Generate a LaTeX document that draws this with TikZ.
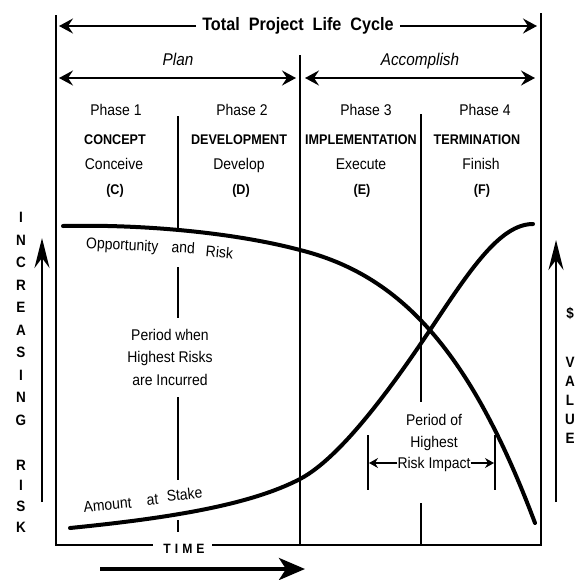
\documentclass[tikz,border=0pt]{standalone}
\usepackage{fontspec}
\setmainfont{Liberation Sans}[FakeStretch=0.9]
\usetikzlibrary{arrows.meta}
\begin{document}
\begin{tikzpicture}[x=1pt,y=-1pt,
  frame/.style={line width=1.4pt},
  curve/.style={line width=4pt,line cap=round},
  hdrarrow/.style={line width=2.6pt,-{Stealth[length=14pt,width=15pt,inset=5pt]}},
  hdrboth/.style={line width=2.6pt,{Stealth[length=14pt,width=15pt,inset=5pt]}-{Stealth[length=14pt,width=15pt,inset=5pt]}},
  axisarrow/.style={line width=2.6pt,-{Stealth[length=30pt,width=15pt,inset=10pt]}},
  timearrow/.style={line width=4pt,-{Stealth[length=26pt,width=22pt,inset=7pt]}},
  smallarrow/.style={line width=1.3pt,-{Stealth[length=9pt,width=10pt,inset=3pt]}},
  txt/.style={inner sep=0pt,anchor=base,font=\fontsize{15.5}{18}\selectfont},
  caps/.style={inner sep=0pt,anchor=base,font=\fontsize{14}{16}\selectfont\bfseries},
  vert/.style={inner sep=0pt,align=center,font=\fontsize{15}{22.5}\selectfont\bfseries},
  ital/.style={inner sep=0pt,anchor=base,font=\fontsize{17}{20}\selectfont\itshape}
]
\useasboundingbox (0,0) rectangle (580,579);

% frame
\coordinate (ltop) at (56,15);
\coordinate (lbot) at (56,545);
\coordinate (rtop) at (541,13);
\coordinate (rbot) at (541,545);
\node[inner xsep=0pt,inner ysep=0pt,font=\fontsize{13.5}{15}\selectfont\bfseries\addfontfeatures{LetterSpace=30}] (time) at (184,549) {TIME};
\coordinate (tgapL) at (153,545);
\coordinate (tgapR) at (212,545);
\draw[frame] (ltop) -- (lbot) -- (tgapL);
\draw[frame] (tgapR) -- (rbot) -- (rtop);

% title
\node[inner xsep=6pt,inner ysep=0pt,font=\fontsize{18}{20}\selectfont\bfseries] (title) at (298,26) {\spaceskip=9pt plus 1pt Total Project Life Cycle};
\coordinate (tl) at (59,26);
\coordinate (tr) at (537,26);
\draw[hdrarrow] (title.west) -- (tl);
\draw[hdrarrow] (title.east) -- (tr);

% plan / accomplish
\node[ital] (plan) at (178,65) {Plan};
\node[ital] (acc) at (420,65) {Accomplish};
\coordinate (pl) at (59,78);
\coordinate (pr) at (296,78);
\coordinate (al) at (305,78);
\coordinate (ar) at (535,78);
\draw[hdrboth] (pl) -- (pr);
\draw[hdrboth] (al) -- (ar);

% dividers
\coordinate (mtop) at (300,55);
\coordinate (mbot) at (300,545);
\draw[frame] (mtop) -- (mbot);
\coordinate (da1) at (178,116); \coordinate (da2) at (178,228);
\coordinate (da3) at (178,267); \coordinate (da4) at (178,318);
\coordinate (da5) at (178,397); \coordinate (da6) at (178,480);
\coordinate (da7) at (178,520); \coordinate (da8) at (178,532);
\draw[frame] (da1) -- (da2) (da3) -- (da4) (da5) -- (da6) (da7) -- (da8);
\coordinate (db1) at (421,114); \coordinate (db2) at (421,402);
\coordinate (db3) at (421,503); \coordinate (db4) at (421,545);
\draw[frame] (db1) -- (db2) (db3) -- (db4);

% phase headings
\node[txt]  (ph1) at (116,115) {Phase 1};
\node[caps] (up1) at (115,144) {CONCEPT};
\node[txt]  (vb1) at (114,169) {Conceive};
\node[caps] (lt1) at (115,194) {(C)};
\node[txt]  (ph2) at (242,115) {Phase 2};
\node[caps] (up2) at (239,144) {DEVELOPMENT};
\node[txt]  (vb2) at (239,169) {Develop};
\node[caps] (lt2) at (241,194) {(D)};
\node[txt]  (ph3) at (366,115) {Phase 3};
\node[caps] (up3) at (361,144) {IMPLEMENTATION};
\node[txt]  (vb3) at (361,169) {Execute};
\node[caps] (lt3) at (362,194) {(E)};
\node[txt]  (ph4) at (485,115) {Phase 4};
\node[caps] (up4) at (477,144) {TERMINATION};
\node[txt]  (vb4) at (481,169) {Finish};
\node[caps] (lt4) at (482,194) {(F)};

% curves
\draw[curve] (63,226) .. controls (150,224) and (240,234) .. (300,250)
             .. controls (400,275) and (470,350) .. (535,523);
\draw[curve] (70,528) .. controls (170,518) and (250,505) .. (300,479)
             .. controls (340,458) and (390,390) .. (432,327)
             .. controls (470,270) and (500,224) .. (533,224);

% curve labels
\node[txt,rotate=-3] (opp) at (122,250) {Opportunity};
\node[txt,rotate=-3] (and) at (183,253) {and};
\node[txt,rotate=-5] (risk) at (219,258) {Risk};
\node[txt,rotate=5] (amt) at (108,510) {Amount};
\node[txt,rotate=5] (at) at (153,505) {at};
\node[txt,rotate=6] (stk) at (185,500) {Stake};

% period when
\node[txt] (pw1) at (170,340) {Period when};
\node[txt] (pw2) at (170,362) {Highest Risks};
\node[txt] (pw3) at (170,385) {are Incurred};

% period of highest risk impact
\node[txt] (po1) at (434,425) {Period of};
\node[txt] (po2) at (434,447) {Highest};
\node[txt] (po3) at (434,468) {Risk Impact};
\coordinate (bl1) at (368,435); \coordinate (bl2) at (368,490);
\coordinate (br1) at (495,435); \coordinate (br2) at (495,490);
\draw[frame] (bl1) -- (bl2);
\draw[frame] (br1) -- (br2);
\coordinate (al1) at (369,463);
\coordinate (ar1) at (494,463);
\draw[smallarrow] (po3.west |- al1) -- (al1);
\draw[smallarrow] (po3.east |- ar1) -- (ar1);

% axes
\coordinate (la1) at (42,502); \coordinate (la2) at (42,238);
\draw[axisarrow] (la1) -- (la2);
\coordinate (ra1) at (556,502); \coordinate (ra2) at (556,240);
\draw[axisarrow] (ra1) -- (ra2);
\node[vert] (incr) at (21,319) {I\\N\\C\\R\\E\\A\\S\\I\\N\\G};
\node[vert,font=\fontsize{15}{20.7}\selectfont\bfseries] (rsk) at (21,496) {R\\I\\S\\K};
\node[vert] (dol) at (570,313) {\$};
\node[vert,font=\fontsize{15}{19}\selectfont\bfseries] (val) at (570,400) {V\\A\\L\\U\\E};

% time arrow
\coordinate (ta1) at (100,569); \coordinate (ta2) at (305,569);
\draw[timearrow] (ta1) -- (ta2);
\end{tikzpicture}
\end{document}
